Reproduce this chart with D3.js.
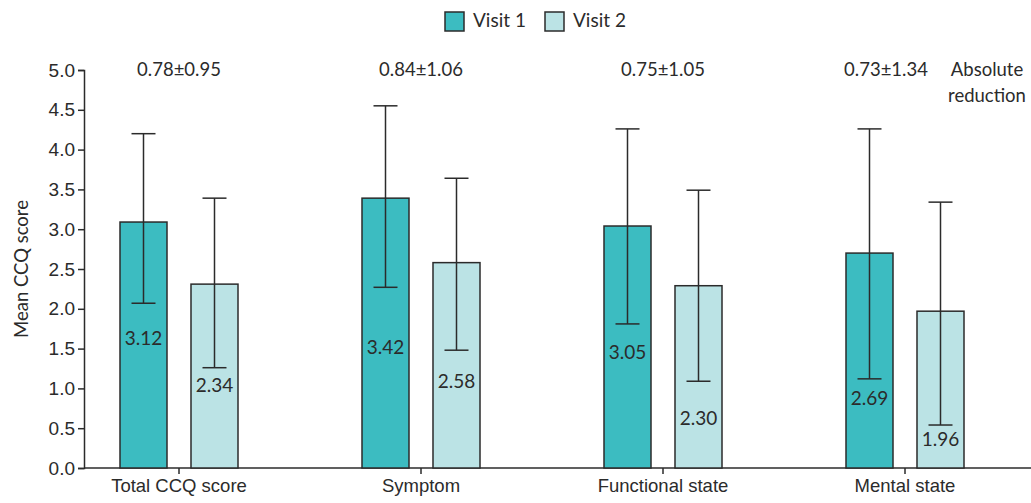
<!DOCTYPE html>
<html>
<head>
<meta charset="utf-8">
<script src="https://cdn.jsdelivr.net/npm/d3@7"></script>
<style>
  body { margin: 0; background: #fff; }
  svg { font-family: Lato, "Noto Sans", sans-serif; }
</style>
</head>
<body>
<div id="chart"></div>
<script>
// Chart data
const categories = ['Total CCQ score', 'Symptom', 'Functional state', 'Mental state'];
const series = ['Visit 1', 'Visit 2'];
const visit1 = [3.09, 3.39, 3.04, 2.70];
const visit2 = [2.31, 2.58, 2.29, 1.97];
const visit1Labels = ['3.12', '3.42', '3.05', '2.69'];
const visit2Labels = ['2.34', '2.58', '2.30', '1.96'];
const visit1ErrLow = [2.07, 2.27, 1.81, 1.12];
const visit1ErrHigh = [4.20, 4.55, 4.26, 4.26];
const visit2ErrLow = [1.26, 1.48, 1.09, 0.54];
const visit2ErrHigh = [3.39, 3.64, 3.49, 3.34];
// where the value labels sit (in score units)
const visit1LabelPos = [1.61, 1.49, 1.43, 0.85];
const visit2LabelPos = [1.01, 1.07, 0.60, 0.34];
const reductions = ['0.78±0.95', '0.84±1.06', '0.75±1.05', '0.73±1.34'];
const yTicks = [0, 0.5, 1, 1.5, 2, 2.5, 3, 3.5, 4, 4.5, 5];

const width = 1031;
const height = 503;
const colors = ['#3cbcc1', '#bbe3e5'];
const ink = '#2b2b2b';
// last note is nudged left to make room for the "Absolute reduction" caption
const lastNoteShift = -19;

const svg = d3.select('#chart')
  .append('svg')
  .attr('width', width)
  .attr('height', height);

// Scales
const x = d3.scaleBand().domain(categories).range([58, 1026]).padding(0);
const xSub = d3.scaleBand().domain(series).range([-59, 59]).paddingInner(0.338);
const y = d3.scaleLinear().domain([0, 5]).range([468, 70]);

const center = c => x(c) + x.bandwidth() / 2;

// Build rows for bars
const rows = [];
categories.forEach((c, i) => {
  rows.push({ cat: c, s: series[0], v: visit1[i], lab: visit1Labels[i], lo: visit1ErrLow[i], hi: visit1ErrHigh[i], lp: visit1LabelPos[i], col: colors[0] });
  rows.push({ cat: c, s: series[1], v: visit2[i], lab: visit2Labels[i], lo: visit2ErrLow[i], hi: visit2ErrHigh[i], lp: visit2LabelPos[i], col: colors[1] });
});

// Y axis
const yAxis = svg.append('g')
  .attr('transform', 'translate(84,0)')
  .call(d3.axisLeft(y).tickValues(yTicks).tickFormat(d3.format('.1f')).tickSize(6).tickPadding(3));
yAxis.select('.domain').attr('stroke', ink).attr('stroke-width', 1.5);
yAxis.selectAll('.tick line').attr('stroke', ink).attr('stroke-width', 1.5);
yAxis.selectAll('.tick text').attr('fill', ink).style('font-size', '19px');

// X axis
const xAxis = svg.append('g')
  .attr('transform', 'translate(0,468)')
  .call(d3.axisBottom(x).tickSize(6).tickPadding(5).tickSizeOuter(0));
xAxis.select('.domain').attr('stroke', ink).attr('stroke-width', 1.5).attr('d', 'M84,0H1031');
xAxis.selectAll('.tick line').attr('stroke', ink).attr('stroke-width', 1.5);
xAxis.selectAll('.tick text').attr('fill', ink).style('font-size', '18.5px');

// Y label
svg.append('text')
  .attr('transform', 'translate(23,' + (y(2.5)) + ') rotate(-90)')
  .attr('text-anchor', 'middle')
  .attr('dominant-baseline', 'middle')
  .attr('fill', ink)
  .style('font-size', '18.5px')
  .text('Mean CCQ score');

// Bars
svg.selectAll('.bar')
  .data(rows)
  .enter()
  .append('rect')
  .attr('class', 'bar')
  .attr('x', d => center(d.cat) + xSub(d.s))
  .attr('y', d => y(d.v))
  .attr('width', xSub.bandwidth())
  .attr('height', d => y(0) - y(d.v))
  .attr('fill', d => d.col)
  .attr('stroke', ink)
  .attr('stroke-width', 1.5);

// Error bars
const capHalf = 12;
const err = svg.selectAll('.err')
  .data(rows)
  .enter()
  .append('g')
  .attr('class', 'err')
  .attr('transform', d => 'translate(' + (center(d.cat) + xSub(d.s) + xSub.bandwidth() / 2) + ',0)')
  .attr('stroke', ink)
  .attr('stroke-width', 1.5);
err.append('line').attr('y1', d => y(d.lo)).attr('y2', d => y(d.hi));
err.append('line').attr('x1', -capHalf).attr('x2', capHalf).attr('y1', d => y(d.hi)).attr('y2', d => y(d.hi));
err.append('line').attr('x1', -capHalf).attr('x2', capHalf).attr('y1', d => y(d.lo)).attr('y2', d => y(d.lo));

// Value labels inside bars
svg.selectAll('.val')
  .data(rows)
  .enter()
  .append('text')
  .attr('class', 'val')
  .attr('x', d => center(d.cat) + xSub(d.s) + xSub.bandwidth() / 2)
  .attr('y', d => y(d.lp))
  .attr('text-anchor', 'middle')
  .attr('dominant-baseline', 'middle')
  .attr('fill', ink)
  .style('font-size', '19px')
  .text(d => d.lab);

// Reduction annotations
svg.selectAll('.red')
  .data(categories)
  .enter()
  .append('text')
  .attr('class', 'red')
  .attr('x', (d, i) => center(d) + (i === categories.length - 1 ? lastNoteShift : 0))
  .attr('y', 71)
  .attr('text-anchor', 'middle')
  .attr('dominant-baseline', 'middle')
  .attr('fill', ink)
  .style('font-size', '18.5px')
  .text((d, i) => reductions[i]);

svg.append('text')
  .attr('x', 987)
  .attr('y', 71)
  .attr('text-anchor', 'middle')
  .attr('dominant-baseline', 'middle')
  .attr('fill', ink)
  .style('font-size', '18.5px')
  .selectAll('tspan')
  .data(['Absolute', 'reduction'])
  .enter()
  .append('tspan')
  .attr('x', 987)
  .attr('dy', (d, i) => i === 0 ? 0 : 26)
  .text(d => d);

// Legend
const legend = svg.append('g');
const legendX = [445, 545];
series.forEach((s, i) => {
  legend.append('rect')
    .attr('x', legendX[i])
    .attr('y', 12)
    .attr('width', 19)
    .attr('height', 19)
    .attr('fill', colors[i])
    .attr('stroke', ink)
    .attr('stroke-width', 1.5);
  legend.append('text')
    .attr('x', legendX[i] + 28)
    .attr('y', 22)
    .attr('dominant-baseline', 'middle')
    .attr('fill', ink)
    .style('font-size', '19px')
    .text(s);
});
</script>
</body>
</html>
